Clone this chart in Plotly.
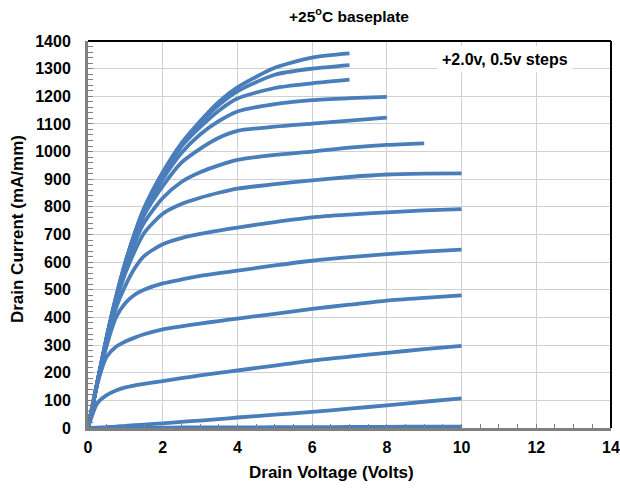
import plotly.graph_objects as go

# Drain voltage sample points (Volts)
VD = [0, 0.25, 0.5, 0.75, 1, 1.25, 1.5, 2, 2.5, 3, 3.5, 4, 5, 6, 7, 8, 9, 10]

# Drain current (mA/mm), gate from +2.0 V down in 0.5 V steps
vg_p20 = [0, 165, 330, 475, 600, 705, 795, 925, 1030, 1110, 1180, 1232, 1303, 1340, 1355]
vg_p15 = [0, 165, 328, 472, 598, 703, 793, 922, 1027, 1103, 1168, 1218, 1278, 1300, 1313]
vg_p10 = [0, 165, 326, 470, 596, 700, 790, 915, 1018, 1088, 1148, 1192, 1230, 1247, 1260]
vg_p05 = [0, 165, 325, 468, 592, 695, 782, 900, 995, 1062, 1110, 1145, 1172, 1186, 1193, 1198]
vg_00 = [0, 165, 324, 466, 587, 688, 770, 875, 960, 1010, 1050, 1075, 1090, 1101, 1112, 1123]
vg_m05 = [0, 165, 323, 464, 578, 670, 742, 832, 890, 925, 950, 970, 988, 1000, 1014, 1024, 1030]
vg_m10 = [0, 165, 322, 458, 560, 640, 705, 775, 810, 833, 851, 866, 882, 896, 908, 917, 920, 921]
vg_m15 = [0, 163, 315, 435, 515, 578, 622, 665, 687, 702, 714, 725, 745, 762, 772, 780, 787, 792]
vg_m20 = [0, 160, 298, 400, 452, 482, 500, 523, 537, 550, 560, 569, 588, 605, 618, 629, 638, 645]
vg_m25 = [0, 160, 258, 294, 313, 327, 339, 357, 368, 378, 387, 396, 413, 431, 446, 461, 471, 480]
vg_m30 = [0, 90, 119, 136, 147, 154, 160, 170, 180, 190, 199, 208, 226, 244, 258, 272, 285, 297]
vg_m35 = [0, 1, 3, 5, 8, 10, 12, 17, 22, 27, 32, 38, 48, 58, 70, 82, 95, 107]
vg_m40 = [0, 0, 0, 1, 1, 1, 1, 1, 2, 2, 2, 2, 3, 3, 4, 4, 5, 5]

curves = [vg_p20, vg_p15, vg_p10, vg_p05, vg_00, vg_m05, vg_m10,
          vg_m15, vg_m20, vg_m25, vg_m30, vg_m35, vg_m40]

X_TICKS = [0, 2, 4, 6, 8, 10, 12, 14]
Y_TICKS = list(range(0, 1401, 100))

FONT = "Liberation Sans, Arial, sans-serif"
LINE_COLOR = "#4A7EBB"

fig = go.Figure()
for ys in curves:
    fig.add_trace(go.Scatter(
        x=VD[:len(ys)], y=ys, mode="lines",
        line=dict(color=LINE_COLOR, width=3.8, shape="spline", smoothing=0.7),
        showlegend=False, hoverinfo="skip"))

tick_font = dict(family=FONT, size=16, color="#000000", weight="bold")
title_font = dict(family=FONT, size=17, color="#000000", weight="bold")

fig.update_layout(
    width=620, height=488,
    margin=dict(l=88, r=9, t=41, b=60),
    paper_bgcolor="white", plot_bgcolor="white",
    xaxis=dict(range=[0, 14], tickvals=X_TICKS, showgrid=True, gridcolor="#d0d0d0",
               gridwidth=1, zeroline=False, showline=True, linecolor="#808080",
               linewidth=3, ticks="", tickfont=tick_font, automargin=False,
               ticklabelstandoff=3, ticklabeloverflow="allow",
               minor=dict(dtick=0.5, ticks="inside", ticklen=4, tickcolor="#808080",
                          tickwidth=1, showgrid=False)),
    yaxis=dict(range=[0, 1400], tickvals=Y_TICKS, showgrid=True, gridcolor="#d0d0d0",
               gridwidth=1, zeroline=False, showline=True, linecolor="#808080",
               linewidth=3, ticks="", tickfont=tick_font, automargin=False,
               ticklabelstandoff=11, ticklabeloverflow="allow",
               minor=dict(dtick=20, ticks="inside", ticklen=5, tickcolor="#808080",
                          tickwidth=1, showgrid=False)),
)

# black top and right frame
fig.add_shape(type="line", xref="paper", yref="paper", x0=0, x1=1, y0=1, y1=1,
              line=dict(color="#000000", width=2), layer="above")
fig.add_shape(type="line", xref="paper", yref="paper", x0=1, x1=1, y0=0, y1=1,
              line=dict(color="#000000", width=2), layer="above")

# chart title
fig.add_annotation(x=0.499, y=1.067, xref="paper", yref="paper",
                   text="+25<sup>o</sup>C baseplate", showarrow=False,
                   xanchor="center", yanchor="middle",
                   font=dict(family=FONT, size=15.5, color="#000000", weight="bold"))
# axis titles
fig.add_annotation(x=0.4665, y=-0.116, xref="paper", yref="paper",
                   text="Drain Voltage (Volts)", showarrow=False,
                   xanchor="center", yanchor="middle", font=title_font)
fig.add_annotation(x=-0.1358, y=0.514, xref="paper", yref="paper",
                   text="Drain Current (mA/mm)", showarrow=False, textangle=-90,
                   xanchor="center", yanchor="middle", font=title_font)
# step note
fig.add_annotation(x=0.797, y=0.951, xref="paper", yref="paper",
                   text="+2.0v, 0.5v steps", showarrow=False,
                   xanchor="center", yanchor="middle",
                   font=dict(family=FONT, size=16, color="#000000", weight="bold"),
                   bgcolor="white", borderpad=4)

fig.write_html("out.html", config={"displayModeBar": False},
               post_script="document.body.style.margin='0';document.body.style.padding='0';")
